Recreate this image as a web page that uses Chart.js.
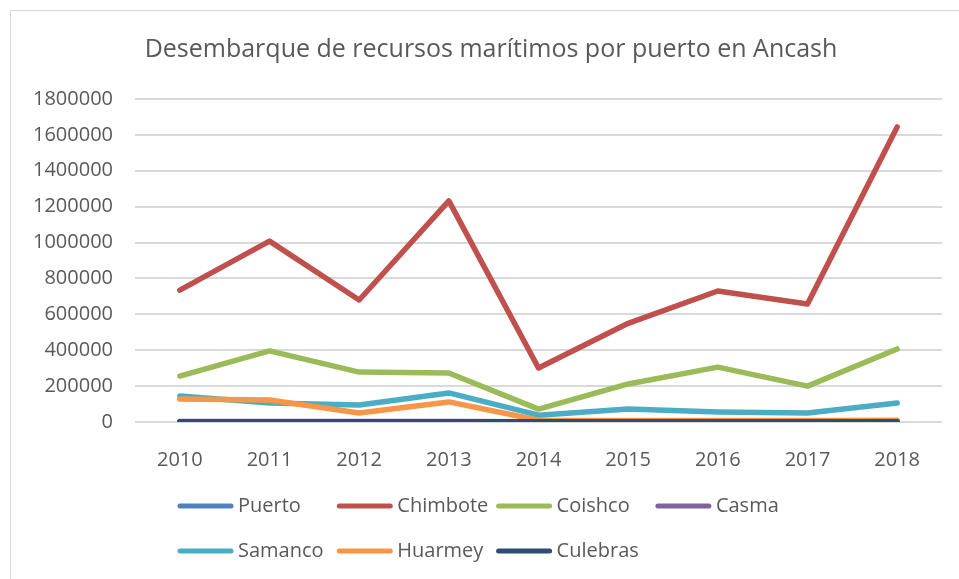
<!DOCTYPE html>
<html>
<head>
<meta charset="utf-8">
<script src="https://cdn.jsdelivr.net/npm/chart.js@4"></script>
<style>
  body { margin: 0; background: #fff; }
  #wrap { position: relative; width: 959px; height: 579px; }
  #frame { position: absolute; left: 10px; top: 10px; width: 960px; height: 600px; border: 1px solid #d9d9d9; box-sizing: border-box; }
  canvas { position: absolute; left: 0; top: 0; }
</style>
</head>
<body>
<div id="wrap">
  <div id="frame"></div>
  <canvas id="MyChart" width="959" height="579"></canvas>
</div>
<script>
const chartTitle = 'Desembarque de recursos marítimos por puerto en Ancash'
const years = ['2010','2011','2012','2013','2014','2015','2016','2017','2018']

const puerto   = [0, 0, 0, 0, 0, 0, 0, 0, 0]
const chimbote = [735000, 1008000, 680000, 1232000, 301000, 550000, 730000, 658000, 1644000]
const coishco  = [256000, 396000, 278000, 273000, 72000, 212000, 306000, 200000, 407000]
const casma    = [3000, 3000, 3000, 3000, 2000, 3000, 3000, 3000, 3000]
const samanco  = [145000, 106000, 95000, 162000, 38000, 72000, 56000, 50000, 106000]
const huarmey  = [128000, 123000, 50000, 112000, 10000, 8000, 8000, 8000, 10000]
const culebras = [1000, 1000, 1000, 1000, 1000, 1000, 1000, 1000, 1000]

const yTicks = [0, 200000, 400000, 600000, 800000, 1000000, 1200000, 1400000, 1600000, 1800000]

const series = [
  ['Puerto', puerto, '#4f81bd'],
  ['Chimbote', chimbote, '#c0504d'],
  ['Coishco', coishco, '#9bbb59'],
  ['Casma', casma, '#8064a2'],
  ['Samanco', samanco, '#4bacc6'],
  ['Huarmey', huarmey, '#f79646'],
  ['Culebras', culebras, '#2c4d75']
]

const txt = '#595959'
const fontFam = '"Open Sans", sans-serif'

// titulo y leyenda tipo Excel: columnas fijas, filas alineadas a la izquierda
const excelLegend = {
  id: 'excelLegend',
  afterDraw(chart) {
    const ctx = chart.ctx
    ctx.save()
    ctx.fillStyle = txt
    ctx.textBaseline = 'middle'
    ctx.textAlign = 'center'
    ctx.font = '25px ' + fontFam
    ctx.fillText(chartTitle, 491, 50)

    ctx.textAlign = 'left'
    ctx.font = '20px ' + fontFam
    const x0 = 178, colW = 159.3, rowY = [506, 551], perRow = 4
    chart.data.datasets.forEach((ds, i) => {
      const x = x0 + (i % perRow) * colW
      const y = rowY[Math.floor(i / perRow)]
      ctx.strokeStyle = ds.borderColor
      ctx.lineWidth = 5
      ctx.lineCap = 'round'
      ctx.beginPath()
      ctx.moveTo(x + 2, y)
      ctx.lineTo(x + 53, y)
      ctx.stroke()
      ctx.fillText(ds.label, x + 60, y)
    })
    ctx.restore()
  }
}

new Chart(document.getElementById('MyChart'), {
  type: 'line',
  data: {
    labels: years,
    datasets: series.map((s, i) => ({
      label: s[0],
      data: s[1],
      borderColor: s[2],
      backgroundColor: s[2],
      borderWidth: 5.5,
      borderCapStyle: 'round',
      borderJoinStyle: 'round',
      pointRadius: 0,
      tension: 0,
      order: series.length - i
    }))
  },
  options: {
    responsive: false,
    animation: false,
    layout: { padding: { left: 10, right: 17, top: 99, bottom: 100 } },
    plugins: {
      legend: { display: false },
      tooltip: { enabled: false },
      title: { display: false }
    },
    scales: {
      x: {
        offset: true,
        grid: { display: false },
        border: { display: false },
        ticks: { color: txt, font: { family: fontFam, size: 20 }, padding: 18, maxRotation: 0 },
        afterFit(scale) { scale.height = 57 }
      },
      y: {
        min: 0,
        max: 1800000,
        afterBuildTicks(scale) { scale.ticks = yTicks.map(v => ({ value: v })) },
        grid: { color: '#d9d9d9', lineWidth: 2, drawTicks: false },
        border: { display: false },
        ticks: { color: txt, font: { family: fontFam, size: 20 }, padding: 22, callback: v => String(v) },
        afterFit(scale) { scale.width = 125 }
      }
    }
  },
  plugins: [excelLegend]
})
</script>
</body>
</html>
